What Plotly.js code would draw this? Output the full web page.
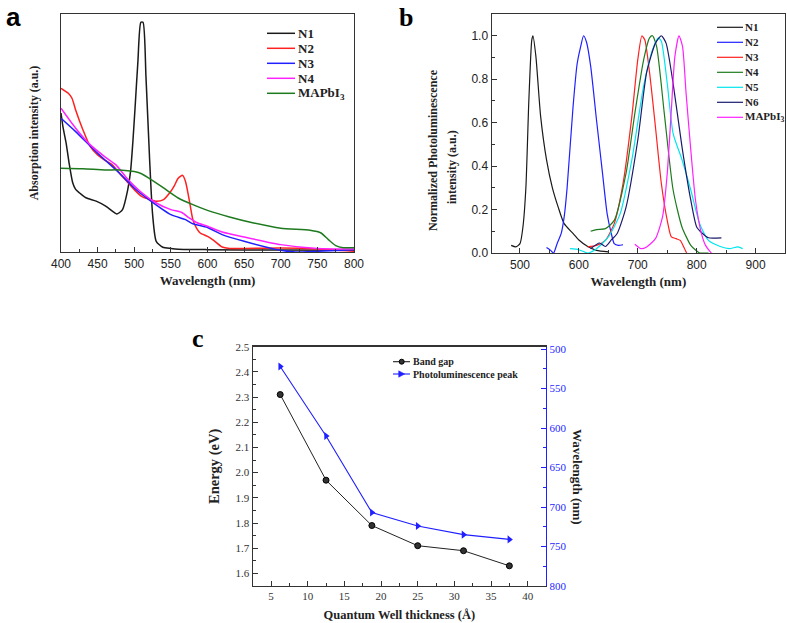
<!DOCTYPE html>
<html><head><meta charset="utf-8">
<script src="https://cdn.plot.ly/plotly-3.0.1.min.js"></script>
<style>html,body{margin:0;padding:0;background:#fff}#chart{width:787px;height:623px}</style>
</head><body><div id="chart"></div>
<script>
// ---------- Panel a : absorption ----------
const absN1_x = [400,403,407,411,416,420,425,434,448,461,473,476,480,484,491,495,498,501,505,509,512,516,521,525,530,539,550,560,600,700,800];
const absN1_y = [0.584,0.52,0.458,0.375,0.291,0.263,0.249,0.228,0.214,0.193,0.165,0.16,0.166,0.178,0.26,0.34,0.458,0.6,0.8,0.965,0.965,0.737,0.388,0.16,0.045,0.02,0.015,0.012,0.01,0.008,0.007];
const absN2_x = [400,410,415,420,430,440,450,460,470,480,490,500,510,520,530,540,550,555,560,566,570,575,580,585,590,600,605,610,620,630,650,700,750,800];
const absN2_y = [0.688,0.667,0.646,0.597,0.513,0.443,0.408,0.385,0.366,0.33,0.296,0.262,0.234,0.222,0.213,0.22,0.255,0.28,0.31,0.322,0.296,0.22,0.136,0.1,0.08,0.066,0.056,0.045,0.021,0.015,0.015,0.017,0.013,0.003];
const absN3_x = [400,420,450,480,500,520,550,570,580,600,620,650,700,720,750,800];
const absN3_y = [0.562,0.506,0.415,0.331,0.269,0.22,0.157,0.136,0.119,0.103,0.073,0.045,0.007,0.0,0.003,0.01];
const absN4_x = [400,420,440,460,475,490,510,530,550,565,575,585,600,620,650,700,750,800];
const absN4_y = [0.604,0.52,0.45,0.40,0.366,0.31,0.25,0.206,0.178,0.166,0.143,0.124,0.108,0.084,0.063,0.031,0.015,0.013];
const absMA_x = [400,430,460,480,500,510,520,540,560,580,600,630,660,700,740,755,765,775,785,800];
const absMA_y = [0.352,0.35,0.345,0.345,0.338,0.329,0.31,0.269,0.227,0.199,0.175,0.147,0.124,0.10,0.091,0.08,0.052,0.027,0.018,0.018];
const absNames = ['N1','N2','N3','N4','MAPbI<sub>3</sub>'];
const absColors = ['#1a1a1a','#ff2020','#2020ff','#ff20ff','#1e7a1e'];

// ---------- Panel b : normalized PL ----------
const plN1_x = [485,493,500,505,510,515,520,522,527,535,545,555,565,575,590,600,615,630,650];
const plN1_y = [0.035,0.028,0.043,0.12,0.30,0.70,0.98,1.0,0.905,0.63,0.43,0.30,0.21,0.135,0.09,0.06,0.03,0.012,0.005];
const plN2_x = [545,552,557,563,570,575,580,590,597,603,608,613,620,630,640,648,655,660,667,675];
const plN2_y = [0.025,0.012,0.0,0.043,0.09,0.166,0.30,0.67,0.87,0.95,1.0,0.97,0.86,0.61,0.37,0.18,0.09,0.043,0.035,0.038];
const plN3_x = [615,630,645,660,675,690,700,707,712,720,730,740,750,757,765,772,778,783];
const plN3_y = [0.028,0.035,0.058,0.135,0.32,0.63,0.89,1.0,0.98,0.83,0.58,0.32,0.15,0.074,0.066,0.058,0.028,0.0];
const plN4_x = [620,630,645,660,680,695,710,720,725,732,745,760,775,790,800,805,820];
const plN4_y = [0.10,0.108,0.112,0.15,0.366,0.643,0.89,0.99,1.0,0.95,0.643,0.29,0.12,0.035,0.009,0.0,0.0];
const plN5_x = [585,600,615,630,650,670,690,710,725,735,740,750,760,775,790,805,820,840,855,870,878];
const plN5_y = [0.02,0.015,0.0,0.02,0.074,0.18,0.43,0.77,0.935,0.99,0.975,0.78,0.55,0.43,0.29,0.135,0.058,0.03,0.02,0.028,0.02];
const plN6_x = [620,635,645,655,665,680,700,715,730,740,748,760,775,790,800,810,820,842];
const plN6_y = [0.02,0.046,0.03,0.06,0.09,0.21,0.52,0.83,0.966,1.0,0.966,0.78,0.49,0.243,0.12,0.09,0.07,0.07];
const plMA_x = [695,705,715,730,742,750,757,763,770,776,782,790,798,808,815,822,825];
const plMA_y = [0.04,0.02,0.028,0.066,0.166,0.366,0.66,0.905,1.0,0.95,0.735,0.474,0.243,0.09,0.035,0.009,0.0];
const plNames = ['N1','N2','N3','N4','N5','N6','MAPbI<sub>3</sub>'];
const plColors = ['#1a1a1a','#2020ff','#ff2020','#1e7a1e','#00e5ee','#1a1a6e','#ff20ff'];

// ---------- Panel c : band gap / PL peak ----------
const qwThickness = [6.25,12.5,18.75,25,31.25,37.5];
const bandGap = [2.31,1.97,1.79,1.71,1.69,1.63];
const plPeak = [522,610,707,724,735,741];
const cNames = ['Band gap','Photoluminescence peak'];
const cColors = ['#222222','#1f1fff'];

const serif = "Liberation Serif, Times New Roman, serif";
const sans = "Liberation Sans, Arial, sans-serif";
const W = 787, H = 623;
const px = v => v / W, py = v => 1 - v / H;

function line(x, y, name, color, xa, ya, w) {
  return {x: x, y: y, name: name, type: 'scatter', mode: 'lines', showlegend: false,
    line: {color: color, width: w || 1.5, shape: 'spline', smoothing: 0.6},
    xaxis: xa, yaxis: ya};
}

const absX = [absN1_x, absN2_x, absN3_x, absN4_x, absMA_x];
const absY = [absN1_y, absN2_y, absN3_y, absN4_y, absMA_y];
const plX = [plN1_x, plN2_x, plN3_x, plN4_x, plN5_x, plN6_x, plMA_x];
const plY = [plN1_y, plN2_y, plN3_y, plN4_y, plN5_y, plN6_y, plMA_y];

const traces = [];
absNames.forEach((n, i) => traces.push(line(absX[i], absY[i], n, absColors[i], 'x', 'y', 1.5)));
plNames.forEach((n, i) => traces.push(line(plX[i], plY[i], n, plColors[i], 'x2', 'y2', 1.2)));
traces.push({x: qwThickness, y: bandGap, name: cNames[0], type: 'scatter', mode: 'lines+markers', showlegend: false,
   line: {color: cColors[0], width: 1}, marker: {symbol: 'circle', size: 6, color: '#333', line: {color: '#000', width: 1}},
   xaxis: 'x3', yaxis: 'y3'});
traces.push({x: qwThickness, y: plPeak, name: cNames[1], type: 'scatter', mode: 'lines+markers', showlegend: false,
   line: {color: cColors[1], width: 1.1}, marker: {symbol: 'triangle-right', size: 7, color: cColors[1]},
   xaxis: 'x3', yaxis: 'y4'});

const axTitleFont = {family: serif, size: 12, color: '#222', weight: 'bold'};
const baseAx = {showline: true, linecolor: '#333', linewidth: 1.2, mirror: true, showgrid: false, zeroline: false,
  ticks: 'inside', ticklen: 5, tickcolor: '#333', tickfont: {family: sans, size: 12, color: '#222'}};

// manual legends (compact spacing as in the reference)
const shapes = [], annotations = [];
absNames.forEach((n, i) => {
  const yy = 33.3 + 15 * i;
  shapes.push({type: 'line', xref: 'paper', yref: 'paper', x0: px(267), x1: px(295), y0: py(yy), y1: py(yy), line: {color: absColors[i], width: 1.5}});
  annotations.push({text: n, x: px(296), y: py(yy), xref: 'paper', yref: 'paper', showarrow: false, xanchor: 'left', yanchor: 'middle',
    font: {family: serif, size: 13, color: '#222', weight: 'bold'}});
});
plNames.forEach((n, i) => {
  const yy = 27.3 + 15 * i;
  shapes.push({type: 'line', xref: 'paper', yref: 'paper', x0: px(717), x1: px(743), y0: py(yy), y1: py(yy), line: {color: plColors[i], width: 1.2}});
  annotations.push({text: n, x: px(743), y: py(yy), xref: 'paper', yref: 'paper', showarrow: false, xanchor: 'left', yanchor: 'middle',
    font: {family: serif, size: 11, color: '#222', weight: 'bold'}});
});
cNames.forEach((n, i) => {
  const yy = 361.7 + 12.3 * i;
  shapes.push({type: 'line', xref: 'paper', yref: 'paper', x0: px(393), x1: px(410), y0: py(yy), y1: py(yy), line: {color: cColors[i], width: 1.1}});
  annotations.push({text: n, x: px(411), y: py(yy), xref: 'paper', yref: 'paper', showarrow: false, xanchor: 'left', yanchor: 'middle',
    font: {family: serif, size: 10, color: '#222', weight: 'bold'}});
});
shapes.push({type: 'circle', xref: 'paper', yref: 'paper', x0: px(399.2), x1: px(404.2), y0: py(359.2), y1: py(364.2),
  fillcolor: '#333', line: {color: '#000', width: 1}});
shapes.push({type: 'path', xref: 'paper', yref: 'paper',
  path: `M ${px(398.7)},${py(370.8)} L ${px(404.7)},${py(374)} L ${px(398.7)},${py(377.2)} Z`,
  fillcolor: cColors[1], line: {color: cColors[1], width: 0.5}});

annotations.push(
  {text: 'a', x: px(13), y: py(17), xref: 'paper', yref: 'paper', showarrow: false, xanchor: 'center', yanchor: 'middle',
   font: {family: sans, size: 26, color: '#000', weight: 'bold'}},
  {text: 'b', x: px(406), y: py(17), xref: 'paper', yref: 'paper', showarrow: false, xanchor: 'center', yanchor: 'middle',
   font: {family: serif, size: 26, color: '#000', weight: 'bold'}},
  {text: 'c', x: px(198), y: py(339), xref: 'paper', yref: 'paper', showarrow: false, xanchor: 'center', yanchor: 'middle',
   font: {family: serif, size: 26, color: '#000', weight: 'bold'}},
  {text: 'Normalized Photoluminescence', x: px(433), y: py(150), xref: 'paper', yref: 'paper', showarrow: false, textangle: -90,
   xanchor: 'center', yanchor: 'middle', font: axTitleFont},
  {text: 'intensity (a.u.)', x: px(452), y: py(167), xref: 'paper', yref: 'paper', showarrow: false, textangle: -90,
   xanchor: 'center', yanchor: 'middle', font: axTitleFont},
  {text: 'Wavelength (nm)', x: px(578), y: py(477), xref: 'paper', yref: 'paper', showarrow: false, textangle: 90,
   xanchor: 'center', yanchor: 'middle', font: Object.assign({}, axTitleFont, {size: 13})}
);

const layout = {
  width: W, height: H, margin: {l: 0, r: 0, t: 0, b: 0},
  paper_bgcolor: '#fff', plot_bgcolor: '#fff', showlegend: false,
  xaxis: Object.assign({}, baseAx, {domain: [0.0775, 0.4498], anchor: 'y', range: [400, 800], dtick: 50,
    minor: {dtick: 25, ticks: 'inside', ticklen: 3, tickcolor: '#333'},
    title: {text: 'Wavelength (nm)', font: Object.assign({}, axTitleFont, {size: 13}), standoff: 6}}),
  yaxis: Object.assign({}, baseAx, {domain: [0.5955, 0.9775], anchor: 'x', range: [0, 1], showticklabels: false, ticks: '',
    title: {text: 'Absorption intensity (a.u.)', font: axTitleFont, standoff: 18}}),
  xaxis2: Object.assign({}, baseAx, {domain: [0.6248, 0.9975], anchor: 'y2', range: [452, 950], dtick: 100,
    minor: {dtick: 50, ticks: 'inside', ticklen: 3, tickcolor: '#333'},
    title: {text: 'Wavelength (nm)', font: Object.assign({}, axTitleFont, {size: 13}), standoff: 6}}),
  yaxis2: Object.assign({}, baseAx, {domain: [0.5939, 0.9775], anchor: 'x2', range: [0, 1.1], dtick: 0.2, tick0: 0, tickformat: '.1f',
    minor: {dtick: 0.1, ticks: 'inside', ticklen: 3, tickcolor: '#333'}}),
  xaxis3: Object.assign({}, baseAx, {domain: [0.3211, 0.6938], anchor: 'y3', range: [2.5, 42.5], dtick: 5, tick0: 0, mirror: true,
    tickfont: {family: serif, size: 11, color: '#333'},
    minor: {dtick: 2.5, ticks: 'inside', ticklen: 3, tickcolor: '#333'},
    title: {text: 'Quantum Well thickness (Å)', font: Object.assign({}, axTitleFont, {size: 12.5}), standoff: 8}}),
  yaxis3: Object.assign({}, baseAx, {domain: [0.0594, 0.4435], anchor: 'x3', range: [1.55, 2.5], dtick: 0.1, tick0: 0, tickformat: '.1f', mirror: false,
    tickfont: {family: serif, size: 11, color: '#333'},
    minor: {dtick: 0.05, ticks: 'inside', ticklen: 3, tickcolor: '#333'},
    title: {text: 'Energy (eV)', font: Object.assign({}, axTitleFont, {size: 14.5}), standoff: 12}}),
  yaxis4: {overlaying: 'y3', side: 'right', anchor: 'x3', range: [800, 497], dtick: 50, tick0: 0,
    showline: true, linecolor: '#1f1fff', linewidth: 1.2, showgrid: false, zeroline: false,
    ticks: 'inside', ticklen: 5, tickcolor: '#1f1fff', tickfont: {family: serif, size: 11, color: '#1f1fff'},
    minor: {dtick: 25, ticks: 'inside', ticklen: 3, tickcolor: '#1f1fff'}},
  shapes: shapes,
  annotations: annotations
};

Plotly.newPlot('chart', traces, layout, {displayModeBar: false, staticPlot: true});
</script></body></html>
